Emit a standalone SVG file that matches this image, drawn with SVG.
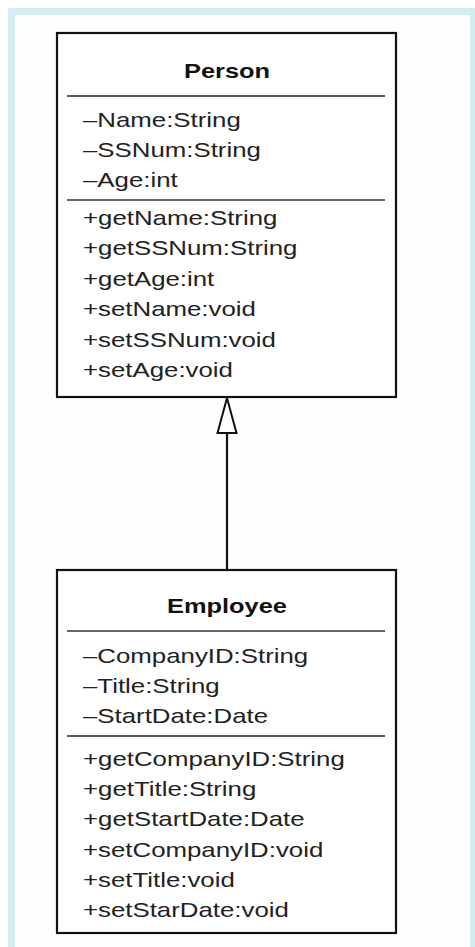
<svg xmlns="http://www.w3.org/2000/svg" width="475" height="947" viewBox="0 0 475 947">
<style>
.box{fill:#fff;stroke:#111;stroke-width:2.2}
.div1{stroke:#222;stroke-width:1.5}
.div2{stroke:#666;stroke-width:2}
.t{font-family:"Liberation Sans",Arial,Helvetica,sans-serif;font-size:21px;fill:#222}
.h{font-family:"Liberation Sans",Arial,Helvetica,sans-serif;font-size:21px;font-weight:bold;fill:#111;text-anchor:middle}
.conn{stroke:#111;stroke-width:2.2;fill:none}
.head{fill:#fff;stroke:#111;stroke-width:2}
</style>
<rect x="0" y="0" width="475" height="947" fill="#ffffff"/>
<rect x="8" y="8" width="467" height="939" fill="#d6ecf3"/>
<rect x="15" y="15" width="455" height="932" fill="#fcfeff"/>
<g id="connectors">
<line class="conn" x1="227" y1="433" x2="227" y2="570"/>
<polygon class="head" points="227,398 217.5,433 236.5,433"/>
</g>
<g id="person">
<rect class="box" x="57" y="33" width="339" height="364"/>
<line class="div1" x1="67" y1="96" x2="385" y2="96"/>
<line class="div2" x1="67" y1="200" x2="385" y2="200"/>
<g transform="translate(227 0) scale(1.21 1)"><text class="h" x="0" y="78">Person</text></g>
<g transform="translate(83 0) scale(1.23 1)">
<text class="t" x="0" y="127">–Name:String</text>
<text class="t" x="0" y="157">–SSNum:String</text>
<text class="t" x="0" y="187">–Age:int</text>
<text class="t" x="0" y="225">+getName:String</text>
<text class="t" x="0" y="255">+getSSNum:String</text>
<text class="t" x="0" y="286">+getAge:int</text>
<text class="t" x="0" y="316">+setName:void</text>
<text class="t" x="0" y="347">+setSSNum:void</text>
<text class="t" x="0" y="377">+setAge:void</text>
</g>
</g>
<g id="employee">
<rect class="box" x="57" y="570" width="339" height="363"/>
<line class="div2" x1="67" y1="631" x2="385" y2="631"/>
<line class="div1" x1="67" y1="736" x2="385" y2="736"/>
<g transform="translate(227 0) scale(1.21 1)"><text class="h" x="0" y="613">Employee</text></g>
<g transform="translate(83 0) scale(1.23 1)">
<text class="t" x="0" y="663">–CompanyID:String</text>
<text class="t" x="0" y="693">–Title:String</text>
<text class="t" x="0" y="723">–StartDate:Date</text>
<text class="t" x="0" y="766">+getCompanyID:String</text>
<text class="t" x="0" y="796">+getTitle:String</text>
<text class="t" x="0" y="826">+getStartDate:Date</text>
<text class="t" x="0" y="857">+setCompanyID:void</text>
<text class="t" x="0" y="887">+setTitle:void</text>
<text class="t" x="0" y="917">+setStarDate:void</text>
</g>
</g>
</svg>
